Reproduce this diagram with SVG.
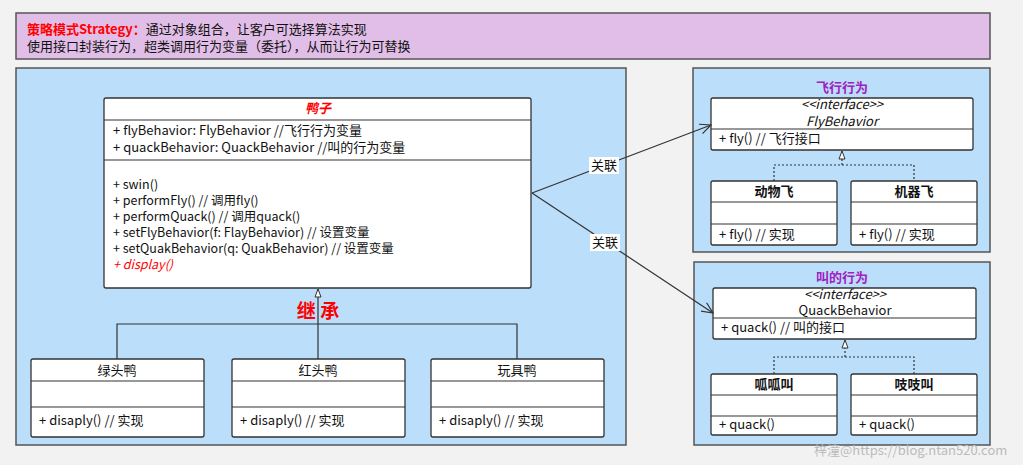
<svg xmlns="http://www.w3.org/2000/svg" width="1023" height="465" viewBox="0 0 1023 465">
<style>
text{font-family:"Microsoft YaHei","Noto Sans CJK SC","Liberation Sans",sans-serif;font-size:13px;fill:#111}
.c{fill:#fff;stroke:#333;stroke-width:1.3}
.l{stroke:#333;stroke-width:1.2;fill:none}
.d{stroke:#333;stroke-width:1.2;fill:none;stroke-dasharray:2 2}
.m{text-anchor:middle}
.b{font-weight:bold}
.p{fill:#a020c0;font-weight:bold}
.pan{fill:#bbdefb;stroke:#555;stroke-width:1.5}
.s{font-size:12.5px}
</style>
<defs>
<marker id="tri" markerWidth="10" markerHeight="10" refX="9" refY="4" orient="auto" markerUnits="userSpaceOnUse"><path d="M1,1 L9,4 L1,7 Z" fill="#fff" stroke="#333"/></marker>
<marker id="op" markerWidth="14" markerHeight="14" refX="12" refY="6" orient="auto" markerUnits="userSpaceOnUse"><path d="M1,1 L12,6 L1,11" fill="none" stroke="#333" stroke-width="1.2"/></marker>
</defs>
<rect width="1023" height="465" fill="#f2f2f2"/>
<g id="banner"><rect x="16" y="13" width="974" height="46" fill="#e1bee7" stroke="#555" stroke-width="1.5"/>
<text x="27" y="34"><tspan fill="#ff0000" font-weight="bold">策略模式Strategy：</tspan>通过对象组合，让客户可选择算法实现</text>
<text x="27" y="51">使用接口封装行为，超类调用行为变量（委托），从而让行为可替换</text></g>
<g id="panel-left"><rect class="pan" x="16" y="68" width="610" height="377"/></g>
<g id="panel-fly"><rect class="pan" x="693" y="68" width="297" height="184"/><text class="p m" x="842" y="92">飞行行为</text></g>
<g id="panel-quack"><rect class="pan" x="694" y="262" width="296" height="183"/><text class="p m" x="842" y="282">叫的行为</text></g>
<g id="duck"><rect class="c" x="104" y="98" width="427" height="190" rx="2"/>
<path class="l" d="M104 120H531M104 160H531"/>
<text class="m" x="318" y="113" font-style="italic" font-weight="bold" style="fill:#ff0000">鸭子</text>
<text x="113" y="135">+ flyBehavior: FlyBehavior //飞行行为变量</text>
<text x="113" y="152">+ quackBehavior: QuackBehavior //叫的行为变量</text>
<text class="s" x="113" y="189">+ swin()</text>
<text class="s" x="113" y="205">+ performFly() // 调用fly()</text>
<text class="s" x="113" y="221">+ performQuack() // 调用quack()</text>
<text class="s" x="113" y="237">+ setFlyBehavior(f: FlayBehavior) // 设置变量</text>
<text class="s" x="113" y="253">+ setQuakBehavior(q: QuakBehavior) // 设置变量</text>
<text class="s" x="113" y="269" font-style="italic" style="fill:#ff0000">+ display()</text></g>
<g id="sub1"><rect class="c" x="31" y="359" width="173" height="78" rx="2"/><path class="l" d="M31 381H204M31 407H204"/><text class="m" x="117" y="375">绿头鸭</text><text x="39" y="425">+ disaply() // 实现</text></g>
<g id="sub2"><rect class="c" x="232" y="359" width="173" height="78" rx="2"/><path class="l" d="M232 381H405M232 407H405"/><text class="m" x="318" y="375">红头鸭</text><text x="240" y="425">+ disaply() // 实现</text></g>
<g id="sub3"><rect class="c" x="431" y="359" width="173" height="78" rx="2"/><path class="l" d="M431 381H604M431 407H604"/><text class="m" x="517" y="375">玩具鸭</text><text x="439" y="425">+ disaply() // 实现</text></g>
<g id="flyif"><rect class="c" x="711" y="98" width="262" height="52" rx="2"/><path class="l" d="M711 129H973"/><text class="m" x="842" y="109" font-style="italic">&lt;&lt;interface&gt;&gt;</text><text class="m" x="842" y="126" font-style="italic">FlyBehavior</text><text x="719" y="143">+ fly() // 飞行接口</text></g>
<g id="fly1"><rect class="c" x="711" y="181" width="126" height="64" rx="2"/><path class="l" d="M711 202H837M711 224H837"/><text class="m b" x="774" y="196">动物飞</text><text x="719" y="239">+ fly() // 实现</text></g>
<g id="fly2"><rect class="c" x="851" y="181" width="126" height="64" rx="2"/><path class="l" d="M851 202H977M851 224H977"/><text class="m b" x="914" y="196">机器飞</text><text x="859" y="239">+ fly() // 实现</text></g>
<g id="quackif"><rect class="c" x="713" y="288" width="263" height="51" rx="2"/><path class="l" d="M713 318H976"/><text class="m" x="845" y="299" font-style="italic">&lt;&lt;interface&gt;&gt;</text><text class="m" x="845" y="315">QuackBehavior</text><text x="721" y="332">+ quack() // 叫的接口</text></g>
<g id="q1"><rect class="c" x="711" y="374" width="126" height="61" rx="2"/><path class="l" d="M711 395H837M711 416H837"/><text class="m b" x="774" y="389">呱呱叫</text><text x="719" y="429">+ quack()</text></g>
<g id="q2"><rect class="c" x="851" y="374" width="126" height="61" rx="2"/><path class="l" d="M851 395H977M851 416H977"/><text class="m b" x="914" y="389">吱吱叫</text><text x="859" y="429">+ quack()</text></g>
<g id="connectors">
<path class="l" d="M117 359V324H517V359M318 359V289" marker-end="url(#tri)"/>
<path class="d" d="M774 181V165H914V181"/><path class="d" d="M842 165V151" marker-end="url(#tri)"/>
<path class="d" d="M774 374V357H914V374"/><path class="d" d="M845 357V340" marker-end="url(#tri)"/>
<path class="l" d="M532 193L711 125" marker-end="url(#op)"/>
<path class="l" d="M532 193L713 313" marker-end="url(#op)"/>
<rect x="589" y="157" width="30" height="17" fill="#fff"/><text class="m" x="604" y="170">关联</text>
<rect x="590" y="234" width="30" height="17" fill="#fff"/><text class="m" x="605" y="247">关联</text>
<text class="m" x="318" y="318" style="fill:#ff0000;font-size:19px;font-weight:bold">继 承</text>
</g>
<text x="814" y="455" style="fill:#bbb;font-size:13px">梓潼@https://blog.ntan520.com</text>
</svg>
